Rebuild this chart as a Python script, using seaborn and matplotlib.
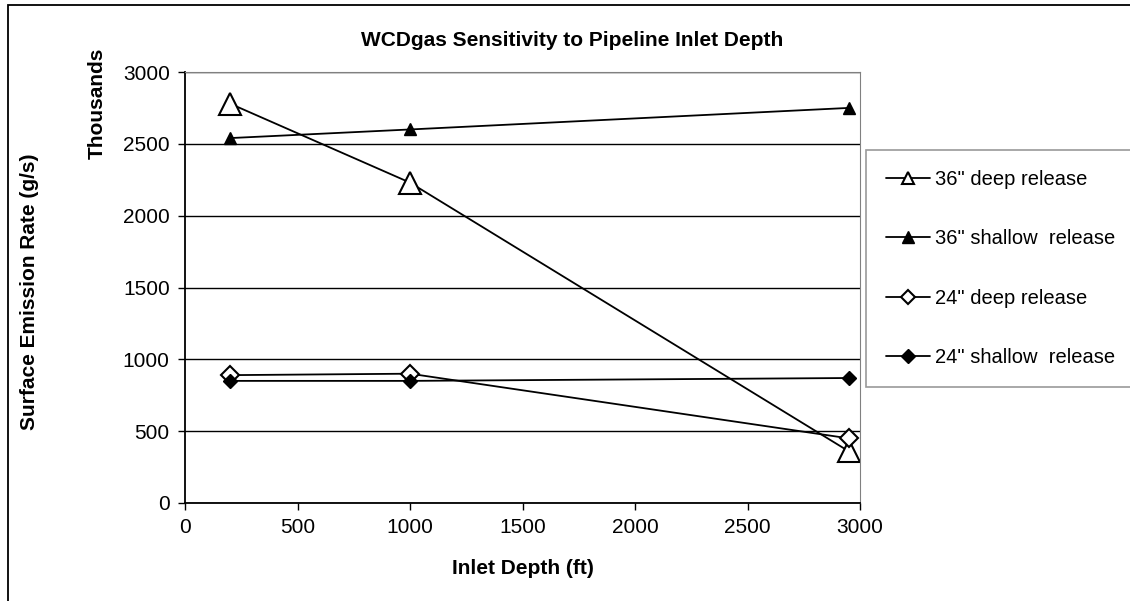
import matplotlib
matplotlib.use("Agg")
import numpy as np
import pandas as pd
import seaborn as sns
from matplotlib import pyplot as plt
from matplotlib.patches import Rectangle

# inlet depth (ft)
depth = [200, 1000, 2950]

# surface emission rate (thousands of g/s)
deep_36 = [2780, 2230, 360]
shallow_36 = [2540, 2600, 2750]
deep_24 = [890, 900, 450]
shallow_24 = [850, 850, 870]

series_names = ['36" deep release', '36" shallow  release', '24" deep release', '24" shallow  release']
series_values = [deep_36, shallow_36, deep_24, shallow_24]

sns.set_style("white")
plt.rcParams['font.family'] = ['Liberation Sans', 'DejaVu Sans']
plt.rcParams['text.color'] = 'black'
plt.rcParams['axes.labelcolor'] = 'black'

df = pd.DataFrame({
    'depth': depth * 4,
    'rate': np.concatenate(series_values),
    'series': np.repeat(series_names, len(depth)),
})

marker_styles = {
    series_names[0]: dict(marker='^', markersize=16, markerfacecolor='white', markeredgewidth=1.5),
    series_names[1]: dict(marker='^', markersize=9, markerfacecolor='black', markeredgewidth=1),
    series_names[2]: dict(marker='D', markersize=9, markerfacecolor='white', markeredgewidth=1.5),
    series_names[3]: dict(marker='D', markersize=7.5, markerfacecolor='black', markeredgewidth=1),
}

fig = plt.figure(figsize=(11.3, 6.01), dpi=100)
ax = fig.add_axes([185 / 1130, 98 / 601, 675 / 1130, 431 / 601])

for name in series_names:
    sub = df[df['series'] == name]
    sns.lineplot(data=sub, x='depth', y='rate', ax=ax, color='black', linewidth=1.3,
                 markeredgecolor='black', label=name, **marker_styles[name])

ax.set_xlim(0, 3000)
ax.set_ylim(0, 3000)
ax.set_xticks(np.arange(0, 3001, 500))
ax.set_yticks(np.arange(0, 3001, 500))
ax.yaxis.grid(True, color='black', linewidth=1)
ax.set_axisbelow(True)
for side in ['top', 'right']:
    ax.spines[side].set_color('#808080')
for side in ['left', 'bottom']:
    ax.spines[side].set_color('black')
    ax.spines[side].set_linewidth(1.3)
ax.tick_params(axis='both', direction='out', length=5, width=1, labelsize=15, colors='black', pad=6)
ax.tick_params(axis='both', bottom=True, left=True)

fig.text(572 / 1130, 1 - 40 / 601, 'WCDgas Sensitivity to Pipeline Inlet Depth', fontsize=15,
         fontweight='bold', ha='center', va='center', color='black')
ax.set_xlabel('Inlet Depth (ft)', fontsize=15, fontweight='bold', labelpad=16, color='black')
ax.set_ylabel('')
fig.text(30 / 1130, 1 - 292 / 601, 'Surface Emission Rate (g/s)', rotation=90, fontsize=15,
         fontweight='bold', ha='center', va='center', color='black')
fig.text(97 / 1130, 1 - 103 / 601, 'Thousands', rotation=90, fontsize=15,
         fontweight='bold', ha='center', va='center', color='black')

leg = ax.legend(loc='upper left', bbox_to_anchor=(866 / 1130, 1 - 150 / 601),
                bbox_transform=fig.transFigure, fontsize=14.5, frameon=True, fancybox=False,
                edgecolor='#808080', labelspacing=2.0, handlelength=2.2, handletextpad=0.25,
                borderpad=1.0, borderaxespad=0)
leg.get_frame().set_linewidth(1.2)
for text in leg.get_texts():
    text.set_color('black')
for h, size in zip(leg.legend_handles, [9, 9, 7, 7]):
    h.set_markersize(size)

# outer chart border
fig.patches.append(Rectangle((8 / 1130, -0.05), 1.1, 1 - 5 / 601 + 0.05, transform=fig.transFigure,
                             fill=False, edgecolor='black', linewidth=1.3))

fig.savefig('out.png', dpi=100)
